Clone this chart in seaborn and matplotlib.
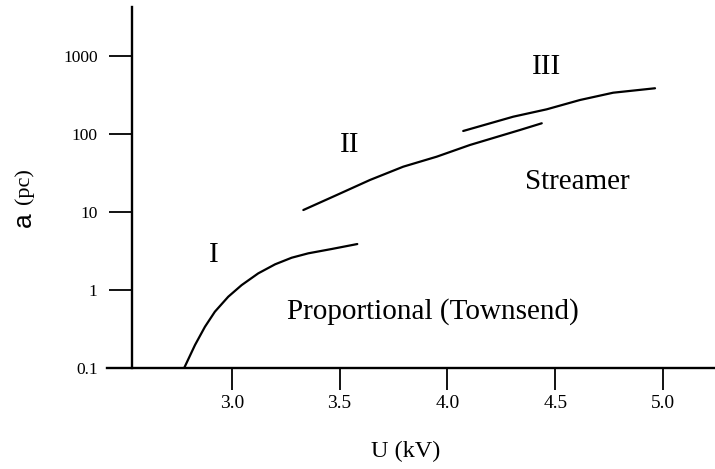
import matplotlib
matplotlib.use("Agg")
import matplotlib.pyplot as plt
import seaborn as sns
import pandas as pd
from matplotlib.ticker import NullLocator, FixedLocator, FixedFormatter

# ---- data ----
u_I = [2.779, 2.830, 2.876, 2.922, 2.984, 3.046, 3.123, 3.201, 3.278, 3.355, 3.463, 3.582]
a_I = [0.1, 0.199, 0.340, 0.530, 0.824, 1.16, 1.64, 2.14, 2.60, 2.96, 3.36, 3.89]

u_II = [3.332, 3.487, 3.641, 3.795, 3.950, 4.104, 4.336, 4.437]
a_II = [10.6, 16.5, 25.7, 38.0, 51.0, 72.0, 112, 136.5]

u_III = [4.073, 4.305, 4.460, 4.614, 4.768, 4.962]
a_III = [108.8, 165.8, 206, 271, 336, 383]

x_ticks = [3.0, 3.5, 4.0, 4.5, 5.0]
x_tick_labels = ["3.0", "3.5", "4.0", "4.5", "5.0"]
y_ticks = [0.1, 1, 10, 100, 1000]
y_tick_labels = ["0.1", "1", "10", "100", "1000"]

region_labels = ["I", "II", "III"]
region_u = [2.915, 3.548, 4.460]
region_a = [2.82, 72, 723]

df = pd.concat([
    pd.DataFrame({"U": u_I, "a": a_I, "curve": "I"}),
    pd.DataFrame({"U": u_II, "a": a_II, "curve": "II"}),
    pd.DataFrame({"U": u_III, "a": a_III, "curve": "III"}),
])

sns.set_style("white")
plt.rcParams["font.family"] = ["Liberation Serif", "DejaVu Serif"]
plt.rcParams["text.color"] = "black"
plt.rcParams["axes.labelcolor"] = "black"
plt.rcParams["xtick.color"] = "black"
plt.rcParams["ytick.color"] = "black"

fig = plt.figure(figsize=(7.15, 4.69), dpi=100)
ax = fig.add_axes([107 / 715, (469 - 368.3) / 469, 1 - 107 / 715, (368.3 - 7) / 469])

for name in ["I", "II", "III"]:
    sns.lineplot(data=df[df["curve"] == name], x="U", y="a", ax=ax,
                 color="black", linewidth=1.6, sort=False, legend=False,
                 estimator=None)

ax.set_yscale("log")
ax.set_xlim(2.422, 5.240)
ax.set_ylim(0.1, 4198)

ax.spines["top"].set_visible(False)
ax.spines["right"].set_visible(False)
ax.spines["left"].set_position(("data", 2.5366))
for s in ["left", "bottom"]:
    ax.spines[s].set_linewidth(1.7)
    ax.spines[s].set_color("black")

ax.xaxis.set_major_locator(FixedLocator(x_ticks))
ax.xaxis.set_major_formatter(FixedFormatter(x_tick_labels))
ax.yaxis.set_major_locator(FixedLocator(y_ticks))
ax.yaxis.set_major_formatter(FixedFormatter(y_tick_labels))
ax.yaxis.set_minor_locator(NullLocator())
ax.xaxis.set_minor_locator(NullLocator())

ax.tick_params(axis="x", direction="out", length=16, width=1.3, pad=3.5,
               labelsize=14, colors="black", bottom=True)
ax.tick_params(axis="y", direction="out", length=16.5, width=1.3, pad=8,
               labelsize=12.5, colors="black", left=True)

ax.set_xlabel("")
ax.set_ylabel("")

for lab, u, a in zip(region_labels, region_u, region_a):
    ax.text(u, a, lab, ha="center", va="center", fontsize=21)

ax.text(4.603, 24.4, "Streamer", ha="center", va="center", fontsize=21)
ax.text(3.934, 0.53, "Proportional (Townsend)", ha="center", va="center", fontsize=21)

fig.text(406 / 715, 1 - 451.7 / 469, "U (kV)", ha="center", va="center", fontsize=17.5)
fig.text(24 / 715, 1 - 220 / 469, "a", ha="center", va="center", rotation=90,
         fontsize=19, family=["Liberation Sans", "DejaVu Sans"])
fig.text(24 / 715, 1 - 186.5 / 469, "(pc)", ha="center", va="center", rotation=90,
         fontsize=16)

fig.savefig("out.png", dpi=100)
